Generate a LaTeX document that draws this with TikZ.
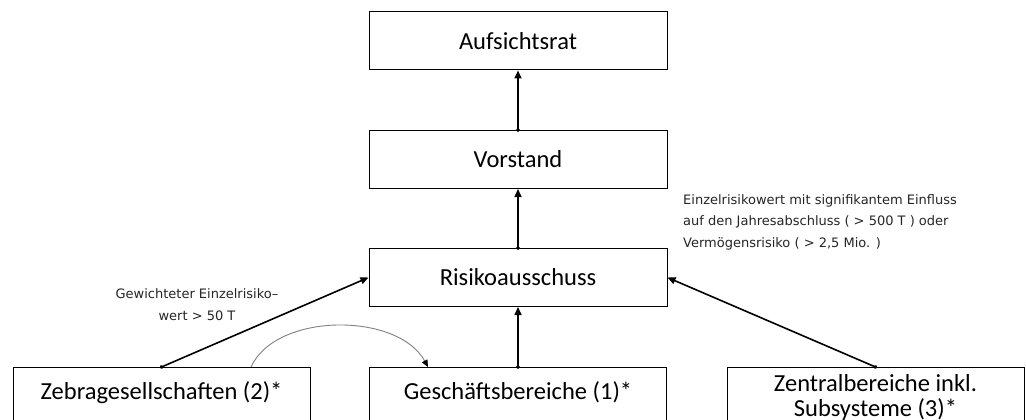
\documentclass[tikz,border=0pt]{standalone}
\usepackage{fontspec}
\setmainfont{Carlito}
\newfontfamily\notefont{DejaVu Sans}
\usetikzlibrary{arrows.meta}
\begin{document}
\begin{tikzpicture}[x=1pt,y=-1pt,
  box/.style={draw=black, line width=1pt, minimum width=298pt, minimum height=58pt,
    inner sep=0pt, font=\fontsize{24.5}{28}\selectfont},
  lowbox/.style={draw=black, line width=1pt, minimum width=297pt, inner xsep=0pt,
    inner ysep=0pt, text height=32pt, text depth=60pt, anchor=north,
    font=\fontsize{24.5}{24.5}\selectfont},
  conn/.style={line width=1.6pt, {Circle[length=3.5pt]}-{Triangle[length=8pt,width=7pt]},
    shorten <=-1.75pt},
  curvearrow/.style={draw=gray, line width=0.9pt, -{Triangle[length=7pt,width=6pt,color=black]}},
  note/.style={font=\notefont\fontsize{13}{21.5}\selectfont, inner sep=0pt, text=black!85},
]
\useasboundingbox (0,0) rectangle (1026,420);
\fill[white] (0,0) rectangle (1026,420);
\begin{scope}
\clip (0,0) rectangle (1026,420);
\node[box] (auf) at (518,41) {Aufsichtsrat};
\node[box] (vor) at (518,159.5) {Vorstand};
\node[box] (risk) at (518,277.5) {Risikoausschuss};
\node[lowbox] (zebra) at (161.5,367) {Zebragesellschaften (2)*};
\node[lowbox] (gesch) at (518,367) {Geschäftsbereiche (1)*};
\node[lowbox, text height=24pt] (zentral) at (875.5,367)
  {\begin{tabular}[t]{@{}c@{}}Zentralbereiche inkl.\\Subsysteme (3)*\end{tabular}};
\end{scope}

\draw[conn] (vor.north) -- (auf.south);
\draw[conn] (risk.north) -- (vor.south);
\draw[conn] (gesch.north) -- (risk.south);
\draw[conn] (zebra.north) -- (risk.west);
\draw[conn] (zentral.north) -- (risk.east);
\draw[curvearrow] ([xshift=89.5pt]zebra.north) .. controls +(25,-55) and +(-30,-55) .. ([xshift=-90pt]gesch.north);

\node[note, align=left, anchor=north west] (einfluss) at (683,194)
  {Einzelrisikowert mit signifikantem Einfluss\\auf den Jahresabschluss ( > 500 T ) oder\\Vermögensrisiko ( > 2,5 Mio.  )};
\node[note, align=center, anchor=north] (gewicht) at (197,288.5)
  {Gewichteter Einzelrisiko–\\wert > 50 T};
\end{tikzpicture}
\end{document}
